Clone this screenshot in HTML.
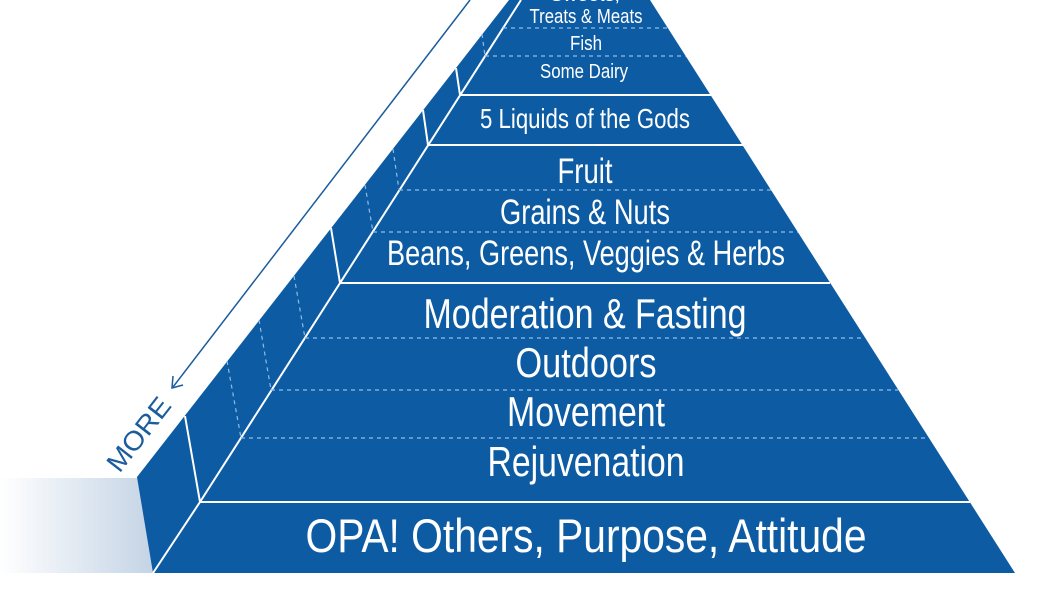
<!DOCTYPE html>
<html><head><meta charset="utf-8"><style>
html,body{margin:0;padding:0;background:#fff;}
svg{display:block;}
text{font-family:"Liberation Sans Narrow","Liberation Sans",sans-serif;fill:#fff;text-anchor:middle;}
</style></head><body>
<svg width="1050" height="600" viewBox="0 0 1050 600" xmlns="http://www.w3.org/2000/svg">
<defs>
<linearGradient id="g" x1="0" x2="1" y1="0" y2="0">
<stop offset="0" stop-color="#fff"/>
<stop offset="1" stop-color="#c3d3e5"/>
</linearGradient>
</defs>
<rect x="0" y="478" width="156" height="95" fill="url(#g)"/>
<polygon points="509,0 137,477 153,573 1015,573 650,0" fill="#0d5ca3"/>
<line x1="470" y1="0" x2="173" y2="387" stroke="#1a5c9c" stroke-width="1.5"/>
<polyline points="173,376 172,388 183,385" fill="none" stroke="#1a5c9c" stroke-width="1.5"/>
<text x="0" y="0" transform="translate(146,440) rotate(-52)" style="fill:#1a5c9c" font-size="27" textLength="86" lengthAdjust="spacingAndGlyphs">MORE</text>
<g stroke="#fff" stroke-width="2" fill="none">
<line x1="521" y1="0" x2="200" y2="502"/>
<line x1="200" y1="502" x2="153" y2="573"/>
<line x1="200" y1="502" x2="970" y2="502"/>
<line x1="340" y1="283" x2="830" y2="283"/>
<line x1="428" y1="145" x2="743" y2="145"/>
<line x1="460" y1="95" x2="711" y2="95"/>
<line x1="185" y1="416" x2="200" y2="502"/>
<line x1="331" y1="228" x2="340" y2="283"/>
<line x1="423" y1="110" x2="428" y2="145"/>
<line x1="456" y1="68" x2="460" y2="95"/>
</g>
<g stroke="#8fbbe6" stroke-width="1.2" stroke-dasharray="4,4" fill="none">
<line x1="241" y1="438" x2="929" y2="438"/>
<line x1="271" y1="390" x2="898" y2="390"/>
<line x1="305" y1="338" x2="865" y2="338"/>
<line x1="373" y1="232" x2="798" y2="232"/>
<line x1="399" y1="190" x2="771" y2="190"/>
<line x1="485" y1="56" x2="686" y2="56"/>
<line x1="503" y1="28" x2="668" y2="28"/>
<line x1="227" y1="361" x2="241" y2="438"/>
<line x1="259" y1="320" x2="271" y2="390"/>
<line x1="294" y1="276" x2="305" y2="338"/>
<line x1="365" y1="185" x2="373" y2="232"/>
<line x1="393" y1="149" x2="399" y2="190"/>
<line x1="482" y1="34" x2="485" y2="56"/>
</g>
<text x="585" y="1" font-size="18" textLength="70" lengthAdjust="spacingAndGlyphs">Sweets,</text>
<text x="586" y="23" font-size="20" textLength="113" lengthAdjust="spacingAndGlyphs">Treats &amp; Meats</text>
<text x="586" y="50" font-size="20" textLength="32" lengthAdjust="spacingAndGlyphs">Fish</text>
<text x="584" y="78" font-size="20" textLength="88" lengthAdjust="spacingAndGlyphs">Some Dairy</text>
<text x="585" y="128" font-size="28" textLength="210" lengthAdjust="spacingAndGlyphs">5 Liquids of the Gods</text>
<text x="585" y="183" font-size="35" textLength="55" lengthAdjust="spacingAndGlyphs">Fruit</text>
<text x="585" y="224" font-size="35" textLength="170" lengthAdjust="spacingAndGlyphs">Grains &amp; Nuts</text>
<text x="586" y="265" font-size="35" textLength="398" lengthAdjust="spacingAndGlyphs">Beans, Greens, Veggies &amp; Herbs</text>
<text x="585" y="328" font-size="42" textLength="323" lengthAdjust="spacingAndGlyphs">Moderation &amp; Fasting</text>
<text x="586" y="377" font-size="42" textLength="141" lengthAdjust="spacingAndGlyphs">Outdoors</text>
<text x="586" y="426" font-size="42" textLength="158" lengthAdjust="spacingAndGlyphs">Movement</text>
<text x="586" y="476" font-size="42" textLength="197" lengthAdjust="spacingAndGlyphs">Rejuvenation</text>
<text x="586" y="552" font-size="47" textLength="561" lengthAdjust="spacingAndGlyphs">OPA! Others, Purpose, Attitude</text>
</svg>
</body></html>
